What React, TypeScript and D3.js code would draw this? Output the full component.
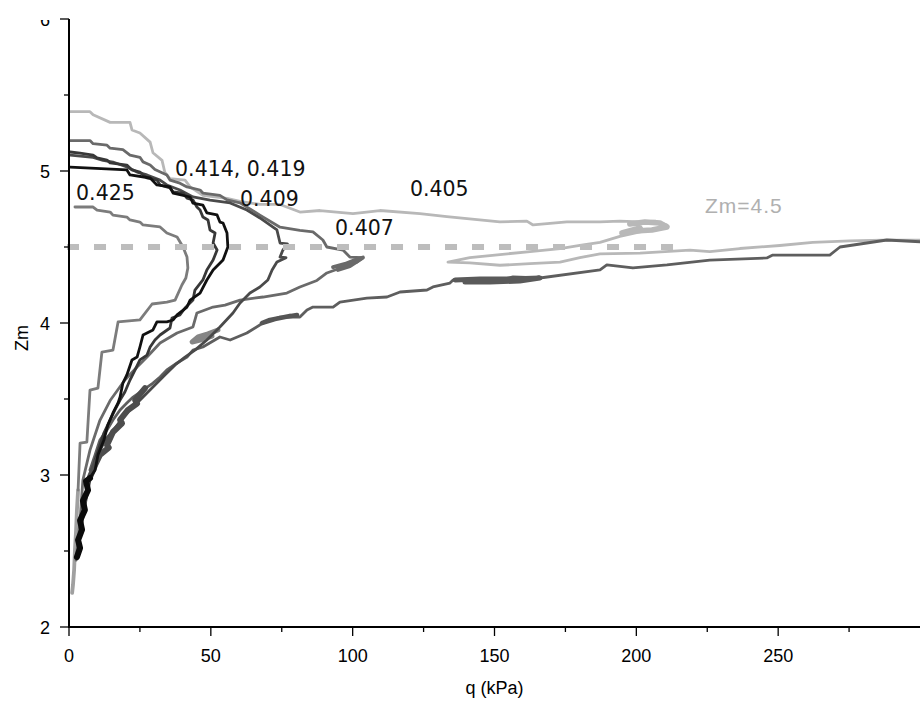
import React from "react";
import * as d3 from "d3";

type Pt = [number, number];

// Axis ticks
const xTicks = [0, 50, 100, 150, 200, 250];
const xMinorTicks = [25, 75, 125, 175, 225, 275];
const yTicks = [2, 3, 4, 5, 6];
const yMinorTicks = [2.5, 3.5, 4.5, 5.5];

// Curves: [q (kPa), Zm]
const e405: Pt[] = [
  [0.4, 5.39], [7.4, 5.39], [8.5, 5.37], [14.5, 5.32], [21.5, 5.32], [22.2, 5.27], [25.0, 5.25],
  [28.6, 5.19], [29.6, 5.12], [32.8, 5.07], [33.8, 4.99], [35.6, 4.95], [40.9, 4.94], [42.7, 4.895],
  [44.4, 4.875], [47.2, 4.84], [55.7, 4.82], [60.3, 4.8], [67.3, 4.78], [74.4, 4.78], [81.4, 4.73],
  [88.5, 4.74], [100.1, 4.72], [109.6, 4.74], [123.7, 4.72], [133.2, 4.7], [151.9, 4.665],
  [161.4, 4.67], [163.6, 4.645], [175.5, 4.665], [187.2, 4.665], [194.2, 4.67], [201.3, 4.665],
  [206.6, 4.67], [210.8, 4.645], [208.3, 4.62], [201.3, 4.6], [194.2, 4.57], [187.2, 4.53],
  [180.1, 4.51], [173.1, 4.49], [162.5, 4.47], [151.9, 4.45], [141.3, 4.43], [133.6, 4.4],
  [141.3, 4.395], [151.9, 4.38], [162.5, 4.39], [173.1, 4.4], [180.1, 4.43], [187.2, 4.455],
  [201.3, 4.46], [218.9, 4.48], [225.9, 4.47], [236.5, 4.49], [250.6, 4.51], [262.2, 4.53],
  [275.3, 4.54], [286.9, 4.545], [301.7, 4.545],
];

const e407: Pt[] = [
  [0.4, 5.2], [7.4, 5.2], [8.5, 5.18], [13.4, 5.17], [14.5, 5.15], [19.0, 5.14], [21.5, 5.105],
  [25.0, 5.09], [26.1, 5.06], [28.6, 5.04], [30.3, 5.01], [34.5, 4.974], [35.6, 4.94], [39.1, 4.92],
  [41.6, 4.895], [46.2, 4.875], [47.2, 4.855], [53.2, 4.84], [55.7, 4.81], [60.3, 4.79],
  [67.3, 4.71], [74.4, 4.63], [81.4, 4.61], [86.0, 4.6], [89.5, 4.546], [90.9, 4.5], [96.6, 4.48],
  [99.0, 4.434], [103.6, 4.43], [101.5, 4.4], [98.0, 4.38], [95.5, 4.36], [90.9, 4.329],
  [87.4, 4.28], [81.4, 4.237], [76.8, 4.197], [68.4, 4.171], [60.3, 4.151], [55.0, 4.118],
  [50.8, 4.105], [45.1, 4.066], [43.7, 3.974], [38.1, 3.934], [32.1, 3.868], [27.5, 3.776],
  [24.0, 3.71], [19.7, 3.625], [14.5, 3.49], [10.9, 3.36], [7.4, 3.164], [4.9, 2.967],
  [3.9, 2.7], [2.5, 2.44],
];

const e409: Pt[] = [
  [0.4, 5.105], [8.5, 5.09], [12.0, 5.07], [15.5, 5.059], [20.4, 5.026], [24.0, 4.993],
  [27.5, 4.974], [32.1, 4.94], [34.5, 4.908], [39.1, 4.875], [43.7, 4.829], [49.7, 4.809],
  [56.8, 4.79], [62.7, 4.743], [67.3, 4.691], [70.8, 4.645], [73.3, 4.612], [74.4, 4.526],
  [77.0, 4.52], [75.4, 4.48], [74.4, 4.434], [76.5, 4.43], [73.3, 4.401], [71.6, 4.349],
  [70.1, 4.283], [67.3, 4.237], [63.8, 4.197], [60.3, 4.132], [57.8, 4.066], [53.2, 3.974],
  [48.6, 3.888], [44.4, 3.822], [40.9, 3.776], [37.4, 3.724], [33.8, 3.658], [30.3, 3.592],
  [26.8, 3.526], [23.3, 3.461], [19.7, 3.395], [16.2, 3.309], [12.7, 3.23], [10.2, 3.132],
  [8.1, 3.033], [6.7, 2.901], [5.3, 2.77], [4.2, 2.638],
];

const e414: Pt[] = [
  [0.4, 5.026], [20.4, 5.007], [21.5, 4.974], [28.6, 4.954], [31.0, 4.908], [35.6, 4.895],
  [36.7, 4.855], [42.7, 4.829], [43.7, 4.789], [47.2, 4.776], [48.6, 4.724], [52.2, 4.711],
  [53.2, 4.664], [54.3, 4.658], [55.7, 4.592], [56.0, 4.5], [54.3, 4.414], [50.8, 4.349],
  [48.6, 4.283], [46.2, 4.197], [42.7, 4.151], [41.6, 4.105], [38.1, 4.053], [36.7, 4.02],
  [34.5, 4.007], [31.0, 4.007], [29.6, 3.954], [26.1, 3.921], [25.0, 3.842], [24.0, 3.776],
  [22.2, 3.757], [20.4, 3.658], [19.0, 3.605], [18.0, 3.513], [17.3, 3.474], [15.5, 3.408],
  [13.7, 3.329], [12.3, 3.23], [10.2, 3.132], [9.2, 3.033], [7.4, 2.98],
];

const e419: Pt[] = [
  [0.4, 5.125], [3.9, 5.118], [8.5, 5.105], [9.9, 5.086], [13.4, 5.072], [14.5, 5.053],
  [20.4, 5.039], [22.2, 5.007], [25.0, 4.993], [27.5, 4.954], [31.0, 4.941], [32.1, 4.908],
  [35.6, 4.888], [36.7, 4.862], [40.2, 4.855], [41.6, 4.822], [43.7, 4.809], [45.1, 4.763],
  [46.2, 4.743], [47.2, 4.697], [49.0, 4.678], [49.7, 4.612], [51.5, 4.592], [50.8, 4.526],
  [52.2, 4.48], [50.8, 4.414], [48.6, 4.349], [47.2, 4.283], [44.4, 4.217], [43.7, 4.151],
  [40.9, 4.099], [39.1, 4.053], [36.3, 4.033], [35.6, 3.967], [32.1, 3.921], [30.3, 3.888],
  [28.6, 3.842], [27.5, 3.789], [25.0, 3.757], [23.3, 3.691], [21.5, 3.625], [19.7, 3.546],
  [18.0, 3.493], [16.2, 3.428], [14.5, 3.362], [12.3, 3.276], [10.9, 3.197], [9.2, 3.099],
  [8.1, 3.0],
];

const e425: Pt[] = [
  [2.1, 4.763], [8.5, 4.763], [9.9, 4.743], [14.5, 4.73], [15.5, 4.71], [20.4, 4.697],
  [21.5, 4.678], [25.0, 4.664], [26.1, 4.645], [32.1, 4.632], [34.5, 4.592], [38.1, 4.566],
  [40.2, 4.5], [41.6, 4.434], [41.9, 4.362], [41.2, 4.296], [39.8, 4.25], [37.4, 4.151],
  [34.5, 4.138], [29.3, 4.125], [25.0, 4.02], [17.3, 4.007], [15.5, 3.822], [11.6, 3.809],
  [10.2, 3.572], [7.4, 3.559], [6.3, 3.217], [3.9, 3.21], [3.2, 2.901],
];

const eLong: Pt[] = [
  [301.7, 4.533], [288.3, 4.546], [271.8, 4.5], [268.2, 4.447], [248.1, 4.447], [246.0, 4.428],
  [225.9, 4.414], [210.8, 4.382], [198.8, 4.362], [189.6, 4.382], [187.2, 4.349], [166.0, 4.296],
  [156.5, 4.303], [151.9, 4.283], [135.4, 4.283], [134.3, 4.263], [128.3, 4.237], [126.2, 4.217],
  [116.7, 4.204], [112.1, 4.171], [105.0, 4.164], [95.5, 4.138], [93.1, 4.105], [86.0, 4.105],
  [83.9, 4.086], [81.4, 4.039], [74.4, 4.039], [68.4, 4.0], [62.7, 3.934], [56.8, 3.888],
  [53.2, 3.908], [47.2, 3.842], [43.7, 3.822], [41.6, 3.776], [38.1, 3.737], [34.5, 3.691],
  [32.1, 3.645], [29.6, 3.605], [26.1, 3.559], [22.6, 3.513], [20.4, 3.474], [18.0, 3.428],
  [15.5, 3.362], [13.4, 3.296], [10.9, 3.23], [9.2, 3.132], [7.4, 3.033],
];

// Noisy, dense parts of the records (thick bands)
const band414: Pt[] = [
  [7.4, 2.98], [6.0, 2.96], [6.7, 2.9], [4.9, 2.83], [5.6, 2.77], [3.9, 2.70], [4.6, 2.64],
  [3.2, 2.572], [3.9, 2.52], [2.8, 2.46],
];
const bandTrunk: Pt[] = [
  [26.8, 3.572], [23.3, 3.493], [24.0, 3.47], [20.8, 3.428], [18.0, 3.362], [18.7, 3.34],
  [15.5, 3.283], [13.4, 3.197], [14.0, 3.18], [10.9, 3.132], [9.2, 3.066], [7.4, 2.987],
];
const bandMid: Pt[] = [
  [52.5, 3.954], [49.0, 3.928], [45.5, 3.908], [43.4, 3.875], [46.2, 3.888], [50.4, 3.914],
];
const bandDark1: Pt[] = [
  [80.4, 4.053], [76.1, 4.039], [70.8, 4.02], [68.0, 4.0], [72.6, 4.026], [77.9, 4.046],
];
const bandDark2: Pt[] = [
  [136.1, 4.283], [144.9, 4.289], [155.4, 4.289], [166.0, 4.296], [158.9, 4.276],
  [148.4, 4.27], [139.6, 4.27],
];
const bandPeak407: Pt[] = [
  [93.1, 4.368], [97.3, 4.388], [100.8, 4.414], [103.6, 4.43], [99.0, 4.375], [94.8, 4.349],
];
const blob405: Pt[] = [
  [197.7, 4.651], [203.0, 4.664], [208.3, 4.658], [210.8, 4.632], [205.5, 4.612],
  [199.5, 4.605], [194.9, 4.592], [201.3, 4.625],
];
const tail405: Pt[] = [
  [3.2, 2.901], [2.8, 2.77], [2.5, 2.638], [2.1, 2.507], [1.8, 2.375], [1.4, 2.276], [1.1, 2.224],
];

// Reference line Zm = 4.5
const refLineQ = [-0.7, 216];
const refLineZm = 4.5;

// Annotations
const labelTexts = ["0.414, 0.419", "0.425", "0.409", "0.407", "0.405"];
const labelQ = [37.4, 2.5, 60.3, 93.8, 120.2];
const labelZm = [4.967, 4.809, 4.77, 4.579, 4.836];
const refLabel = "Zm=4.5";
const refLabelPos: Pt = [224.2, 4.724];

const series = [
  { data: e405, color: "#b8b8b8", width: 2.8 },
  { data: blob405, color: "#b8b8b8", width: 5.5 },
  { data: tail405, color: "#a0a0a0", width: 3.8 },
  { data: e425, color: "#7c7c7c", width: 2.8 },
  { data: e407, color: "#6a6a6a", width: 2.8 },
  { data: eLong, color: "#5e5e5e", width: 2.8 },
  { data: bandPeak407, color: "#6a6a6a", width: 4 },
  { data: bandDark2, color: "#5a5a5a", width: 5 },
  { data: bandDark1, color: "#555555", width: 4.5 },
  { data: bandMid, color: "#858585", width: 5 },
  { data: e409, color: "#4a4a4a", width: 2.8 },
  { data: e419, color: "#383838", width: 2.8 },
  { data: bandTrunk, color: "#4d4d4d", width: 6 },
  { data: e414, color: "#111111", width: 2.8 },
  { data: band414, color: "#0a0a0a", width: 6 },
];

export default function App() {
  const W = 920;
  const H = 713;
  const x = d3.scaleLinear().domain([0, 300]).range([69, 920]);
  const y = d3.scaleLinear().domain([2, 6]).range([627, 19]);
  const line = d3
    .line<Pt>()
    .x((d) => x(d[0]))
    .y((d) => y(d[1]));
  const axisFont = "'Liberation Sans', Arial, sans-serif";
  const labelFont = "'DejaVu Sans', Verdana, sans-serif";

  return (
    <svg
      width={W}
      height={H}
      style={{ position: "absolute", left: 0, top: 0, background: "#fff" }}
    >
      <defs>
        <clipPath id="plotClip">
          <rect x={0} y={0} width={W} height={H} />
        </clipPath>
        <clipPath id="topClip">
          <rect x={0} y={20} width={69} height={40} />
        </clipPath>
      </defs>

      {/* curves */}
      <g clipPath="url(#plotClip)" fill="none" strokeLinejoin="round" strokeLinecap="round">
        {series.map((s, i) => (
          <path key={i} d={line(s.data) || ""} stroke={s.color} strokeWidth={s.width} />
        ))}
      </g>

      {/* dashed reference line */}
      <line
        x1={x(refLineQ[0])}
        x2={x(refLineQ[1])}
        y1={y(refLineZm)}
        y2={y(refLineZm)}
        stroke="#bdbdbd"
        strokeWidth={6}
        strokeDasharray="12 15"
      />

      {/* axes */}
      <line x1={x(0)} x2={x(0)} y1={y(6)} y2={y(2) + 1} stroke="#000" strokeWidth={2} />
      <line x1={x(0) - 1} x2={W} y1={y(2)} y2={y(2)} stroke="#000" strokeWidth={2} />
      {yTicks.map((t) => (
        <line key={"yt" + t} x1={x(0) - 9} x2={x(0)} y1={y(t)} y2={y(t)} stroke="#000" strokeWidth={1.3} />
      ))}
      {yMinorTicks.map((t) => (
        <line key={"ym" + t} x1={x(0) - 5} x2={x(0)} y1={y(t)} y2={y(t)} stroke="#000" strokeWidth={1.3} />
      ))}
      {xTicks.map((t) => (
        <line key={"xt" + t} x1={x(t)} x2={x(t)} y1={y(2)} y2={y(2) + 9} stroke="#000" strokeWidth={1.3} />
      ))}
      {xMinorTicks.map((t) => (
        <line key={"xm" + t} x1={x(t)} x2={x(t)} y1={y(2)} y2={y(2) + 5} stroke="#000" strokeWidth={1.3} />
      ))}

      {/* tick labels */}
      {yTicks.map((t) => (
        <text
          key={"yl" + t}
          x={50}
          y={y(t) + 6.5}
          textAnchor="end"
          fontFamily={axisFont}
          fontSize={18}
          fill="#000"
          clipPath={t === 6 ? "url(#topClip)" : undefined}
        >
          {t}
        </text>
      ))}
      {xTicks.map((t) => (
        <text
          key={"xl" + t}
          x={x(t)}
          y={662}
          textAnchor="middle"
          fontFamily={axisFont}
          fontSize={18}
          fill="#000"
        >
          {t}
        </text>
      ))}
      <text x={x(150)} y={694} textAnchor="middle" fontFamily={axisFont} fontSize={18} fill="#000">
        q (kPa)
      </text>
      <text
        transform={`translate(28, ${y(4) + 15}) rotate(-90)`}
        textAnchor="middle"
        fontFamily={axisFont}
        fontSize={18}
        fill="#000"
      >
        Zm
      </text>

      {/* annotations */}
      {labelTexts.map((t, i) => (
        <text
          key={"lab" + i}
          x={x(labelQ[i])}
          y={y(labelZm[i])}
          fontFamily={labelFont}
          fontSize={20.5}
          fill="#111"
        >
          {t}
        </text>
      ))}
      <text
        x={x(refLabelPos[0])}
        y={y(refLabelPos[1])}
        fontFamily={axisFont}
        fontSize={21}
        letterSpacing={1}
        fill="#b0b0b0"
      >
        {refLabel}
      </text>
    </svg>
  );
}
